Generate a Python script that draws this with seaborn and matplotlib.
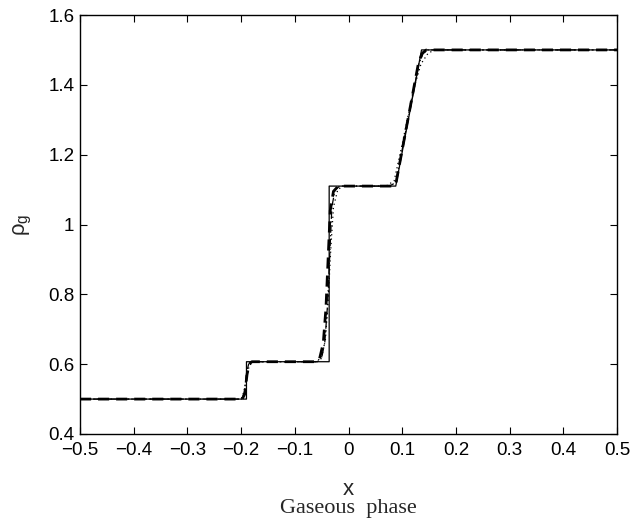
import numpy as np
import pandas as pd
import matplotlib
matplotlib.use("Agg")
import matplotlib.pyplot as plt
import seaborn as sns

# Exact (reference) solution for the gas density
exact_x = [-0.5, -0.19, -0.19, -0.036, -0.036, 0.088, 0.136, 0.5]
exact_rho = [0.5, 0.5, 0.607, 0.607, 1.11, 1.11, 1.5, 1.5]

# Numerical scheme A (thick dashed)
scheme_a_x = [-0.5, -0.198, -0.193, -0.189, -0.185, -0.18, -0.062, -0.054, -0.047,
              -0.042, -0.038, -0.034, -0.028, -0.019, 0.078, 0.088, 0.13, 0.137, 0.145, 0.5]
scheme_a_rho = [0.5, 0.5, 0.515, 0.57, 0.60, 0.607, 0.607, 0.615, 0.66,
                0.76, 0.90, 1.04, 1.095, 1.11, 1.11, 1.115, 1.46, 1.49, 1.5, 1.5]

# Numerical scheme B (dash-dot)
scheme_b_x = [-0.5, -0.199, -0.194, -0.19, -0.186, -0.181, -0.058, -0.05, -0.044,
              -0.039, -0.035, -0.031, -0.025, -0.016, 0.076, 0.088, 0.131, 0.139, 0.148, 0.5]
scheme_b_rho = [0.5, 0.5, 0.52, 0.575, 0.60, 0.607, 0.607, 0.617, 0.665,
                0.77, 0.91, 1.05, 1.10, 1.11, 1.11, 1.12, 1.46, 1.49, 1.5, 1.5]

# Numerical scheme C (dotted)
scheme_c_x = [-0.5, -0.2, -0.195, -0.19, -0.185, -0.178, -0.06, -0.05, -0.043,
              -0.038, -0.033, -0.028, -0.02, -0.01, 0.07, 0.085, 0.1, 0.12, 0.135, 0.148, 0.16, 0.5]
scheme_c_rho = [0.5, 0.5, 0.52, 0.56, 0.595, 0.607, 0.607, 0.62, 0.67,
                0.78, 0.93, 1.05, 1.10, 1.11, 1.11, 1.125, 1.23, 1.38, 1.46, 1.49, 1.5, 1.5]

x_ticks = [-0.5, -0.4, -0.3, -0.2, -0.1, 0, 0.1, 0.2, 0.3, 0.4, 0.5]
x_tick_labels = ["\u22120.5", "\u22120.4", "\u22120.3", "\u22120.2", "\u22120.1",
                 "0", "0.1", "0.2", "0.3", "0.4", "0.5"]
y_ticks = [0.4, 0.6, 0.8, 1.0, 1.2, 1.4, 1.6]
y_tick_labels = ["0.4", "0.6", "0.8", "1", "1.2", "1.4", "1.6"]

sns.set_theme(style="white")
plt.rcParams["font.family"] = ["Liberation Sans", "DejaVu Sans"]
plt.rcParams["mathtext.fontset"] = "custom"
plt.rcParams["mathtext.rm"] = "Liberation Sans"

fig = plt.figure(figsize=(6.35, 5.2), dpi=100)
ax = fig.add_axes([80 / 635, 1 - 434 / 520, (617 - 80) / 635, (434 - 15) / 520])

curves = [
    (exact_x, exact_rho, dict(color="black", linewidth=0.9, linestyle="-")),
    (scheme_c_x, scheme_c_rho, dict(color="black", linewidth=0.9, linestyle=(0, (1, 2.5)))),
    (scheme_b_x, scheme_b_rho, dict(color="black", linewidth=0.9, linestyle=(0, (6, 2, 1, 2)))),
    (scheme_a_x, scheme_a_rho, dict(color="black", linewidth=2.0, linestyle=(0, (4, 2.5)))),
]
for xs, ys, style in curves:
    df = pd.DataFrame({"x": xs, "rho": ys})
    sns.lineplot(data=df, x="x", y="rho", ax=ax, sort=False, estimator=None, **style)

ax.set_xlim(-0.5, 0.5)
ax.set_ylim(0.4, 1.6)
ax.set_xticks(x_ticks)
ax.set_xticklabels(x_tick_labels, fontsize=13.5)
ax.set_yticks(y_ticks)
ax.set_yticklabels(y_tick_labels, fontsize=13.5)
ax.tick_params(direction="in", length=5, width=0.8, color="black",
               top=True, right=True, bottom=True, left=True, labelcolor="black")
ax.tick_params(axis="x", pad=6)
ax.tick_params(axis="y", pad=4)
for spine in ax.spines.values():
    spine.set_color("black")
    spine.set_linewidth(1.0)

ax.set_xlabel("x", fontsize=16, labelpad=14)
ax.set_ylabel("\u03c1$_\\mathrm{g}$", fontsize=16, labelpad=10)
fig.text(0.5 * (80 + 617) / 635, 1 - 508 / 520, "Gaseous  phase",
         ha="center", va="center", fontsize=16, family="Liberation Serif")

fig.savefig("out.png", dpi=100, facecolor="white")
